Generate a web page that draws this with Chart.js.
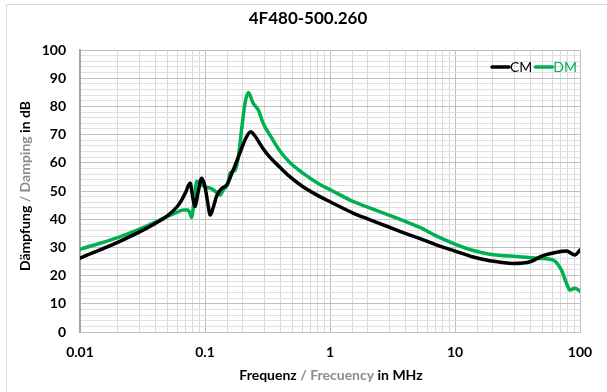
<!DOCTYPE html>
<html>
<head>
<meta charset="utf-8">
<script src="https://cdn.jsdelivr.net/npm/chart.js@4"></script>
<style>
  html, body { margin:0; padding:0; background:#fff; overflow:hidden; }
  #frame { position:absolute; left:6px; top:4px; width:700px; height:500px; border:1px solid #d9d9d9; }
  #c { position:absolute; left:0; top:0; }
</style>
</head>
<body>
<div id="frame"></div>
<canvas id="c" width="607" height="392"></canvas>
<script>
// Attenuation curves (frequency in MHz, damping in dB).
const TITLE = "4F480-500.260";
const cmFreq = [0.01, 0.02, 0.03, 0.04, 0.05, 0.06, 0.065, 0.07, 0.076, 0.08, 0.083, 0.088, 0.094, 0.1, 0.105, 0.11, 0.117,
  0.124, 0.136, 0.149, 0.168, 0.19, 0.209, 0.232, 0.25, 0.29, 0.33, 0.4, 0.48, 0.6, 0.83, 1, 1.54, 2, 2.85, 4, 5.25, 7, 10,
  14, 19, 29, 40, 50, 65, 78, 91, 100];
const cmDb = [26.2, 31.8, 35.5, 38.5, 41.2, 44.5, 46.8, 49.5, 52.8, 47.5, 44.5, 49.5, 54.5, 51.5, 46, 41.5, 44.5,
  48.3, 50.9, 52.1, 57.4, 63.4, 68.1, 71.0, 69.6, 65.2, 62.0, 58.3, 55.0, 51.7, 48.0, 46.2, 42.1, 40.1, 37.5, 35.0, 33.1, 31.0, 28.7,
  26.6, 25.3, 24.3, 24.9, 27.0, 28.3, 28.7, 27.3, 29.1];
const dmFreq = [0.01, 0.02, 0.03, 0.04, 0.05, 0.06, 0.067, 0.073, 0.076, 0.078, 0.081, 0.086, 0.091, 0.1, 0.11, 0.12,
  0.132, 0.14, 0.153, 0.158, 0.174, 0.185, 0.196, 0.209, 0.222, 0.243, 0.267, 0.292, 0.33, 0.4, 0.48, 0.6, 0.83, 1,
  1.54, 2, 2.85, 4, 5.25, 7, 10, 14, 19, 33, 48, 61, 71, 78, 83, 91, 100];
const dmDb = [29.3, 33.5, 36.5, 39.0, 41.0, 42.5, 43.3, 43.3, 42.0, 40.6, 45, 53.5, 52.7, 51.5, 51.0, 50.0,
  48.6, 50.4, 52.7, 56.2, 57.4, 62.2, 71.6, 81.1, 84.9, 81.1, 78.7, 74.0, 69.9, 64.0, 60.0, 56.5, 52.3, 50.5,
  46.2, 44.3, 41.7, 39.2, 37.1, 34.2, 31.2, 28.9, 27.6, 26.7, 26.1, 25.5, 22.0, 17.3, 14.9, 15.5, 14.5];
const xTicks = [0.01, 0.1, 1, 10, 100];
const xTitle = [["Frequenz ", "#000"], ["/ Frecuency", "#8c8c8c"], [" in MHz", "#000"]];
const yTitle = [["Dämpfung ", "#000"], ["/ Damping", "#8c8c8c"], [" in dB", "#000"]];

const FONT = "Lato, 'Open Sans', sans-serif";
const GREEN = "#00b050";
const pts = (xs, ys) => xs.map((x, i) => ({x, y: ys[i]}));
const isDecade = v => Math.abs(Math.log10(v) - Math.round(Math.log10(v))) < 1e-6;

// title, two-colour axis titles and the in-plot legend
const decor = {
  id: "decor",
  afterDraw(chart) {
    const {ctx} = chart;
    const seg = (parts, cx, cy) => {
      ctx.font = "bold 14px " + FONT;
      const w = parts.reduce((s, p) => s + ctx.measureText(p[0]).width, 0);
      let x = cx - w / 2;
      ctx.textBaseline = "middle"; ctx.textAlign = "left";
      parts.forEach(([t, col]) => { ctx.fillStyle = col; ctx.fillText(t, x, cy); x += ctx.measureText(t).width; });
    };
    ctx.save();
    ctx.font = "bold 17px " + FONT; ctx.fillStyle = "#000"; ctx.textAlign = "center"; ctx.textBaseline = "middle";
    ctx.fillText(TITLE, 308, 19);
    seg(xTitle, 331, 375);
    // legend: short line then label, right-aligned at top of plot
    ctx.font = "14px " + FONT; ctx.textAlign = "left";
    let x = 491;
    chart.data.datasets.forEach(d => {
      ctx.strokeStyle = d.borderColor; ctx.lineWidth = 3.5; ctx.lineCap = "round";
      ctx.beginPath(); ctx.moveTo(x + 1, 67); ctx.lineTo(x + 18, 67); ctx.stroke();
      ctx.fillStyle = d.borderColor; ctx.fillText(d.label, x + 19, 67);
      x += 19 + ctx.measureText(d.label).width + 2;
    });
    ctx.translate(25, 186); ctx.rotate(-Math.PI / 2);
    seg(yTitle, 0, 0);
    ctx.restore();
  }
};

const ds = (label, color, data) => ({label, data, borderColor: color, backgroundColor: color, borderWidth: 3.5,
  pointRadius: 0, cubicInterpolationMode: "monotone", borderCapStyle: "round", borderJoinStyle: "round"});

new Chart(document.getElementById("c"), {
  type: "line",
  data: {datasets: [ds("CM", "#000", pts(cmFreq, cmDb)), ds("DM", GREEN, pts(dmFreq, dmDb))]},
  plugins: [decor],
  options: {
    responsive: false, animation: false, devicePixelRatio: 1,
    layout: {padding: {left: 0, right: 27, top: 50, bottom: 0}},
    plugins: {legend: {display: false}, tooltip: {enabled: false}},
    scales: {
      x: {
        type: "logarithmic", min: 0.01, max: 100,
        afterFit: s => { s.height = 60; },
        afterBuildTicks: s => { s.ticks = s.ticks.filter(t => t.value >= 0.01 && t.value <= 100); },
        grid: {drawTicks: false, color: c => c.tick && isDecade(c.tick.value) ? "#bfbfbf" : "#d9d9d9", lineWidth: 1},
        border: {color: "#bfbfbf"},
        ticks: {autoSkip: false, maxRotation: 0, padding: 12, color: "#000", font: {family: FONT, size: 14, weight: "bold"},
          callback: v => xTicks.includes(+v.toPrecision(6)) ? String(+v.toPrecision(6)) : ""}
      },
      y: {
        min: 0, max: 100,
        afterFit: s => { s.width = 80; },
        grid: {drawTicks: false, color: c => c.tick && c.tick.value % 10 === 0 ? "#bfbfbf" : "#e0e0e0", lineWidth: 1},
        border: {color: "#a6a6a6", width: 2},
        ticks: {stepSize: 2, autoSkip: false, padding: 14, color: "#000", font: {family: FONT, size: 14, weight: "bold"},
          callback: v => v % 10 === 0 ? String(v) : ""}
      }
    }
  }
});
</script>
</body>
</html>
